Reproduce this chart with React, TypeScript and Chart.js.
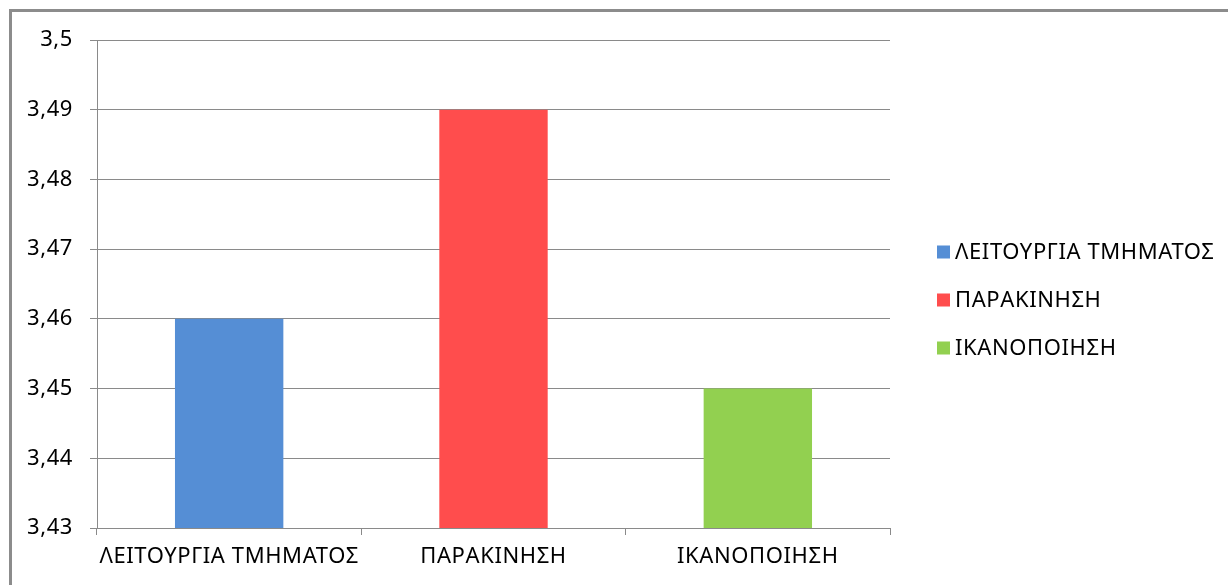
import React, { useEffect, useRef } from "react";
import { Chart, registerables } from "chart.js";

Chart.register(...registerables);

// Survey scores per dimension
const categories = ["ΛΕΙΤΟΥΡΓΙΑ ΤΜΗΜΑΤΟΣ", "ΠΑΡΑΚΙΝΗΣΗ", "ΙΚΑΝΟΠΟΙΗΣΗ"];
const scores = [3.46, 3.49, 3.45];
const barColors = ["#558ED5", "#FF4D4D", "#92D050"];
const yMin = 3.43;
const yMax = 3.5;
const yStep = 0.01;

const FONT = "'Noto Sans', 'DejaVu Sans', sans-serif";
const FONT_SIZE = 22;
const SPACING = "0.6px";
const GRID = "#8a8a8a";

// Slightly open letter spacing for all chart text
const textSpacing = {
  id: "textSpacing",
  beforeUpdate(chart: any) {
    chart.ctx.letterSpacing = SPACING;
  },
  beforeDraw(chart: any) {
    chart.ctx.letterSpacing = SPACING;
  },
};

// Legend drawn to the right of the plot, one square swatch per category
const sideLegend = {
  id: "sideLegend",
  afterDraw(chart: any) {
    const ctx = chart.ctx;
    const labels: string[] = chart.data.labels;
    const colors: string[] = chart.data.datasets[0].backgroundColor;
    const x = 937;
    const startY = 252;
    const gap = 48;
    const box = 13;
    ctx.save();
    ctx.letterSpacing = SPACING;
    ctx.font = `${FONT_SIZE}px ${FONT}`;
    ctx.textBaseline = "middle";
    ctx.textAlign = "left";
    labels.forEach((label, i) => {
      const cy = startY + i * gap;
      ctx.fillStyle = colors[i];
      ctx.fillRect(x, cy - box / 2, box, box);
      ctx.fillStyle = "#000";
      ctx.fillText(label, x + box + 5, cy + 1);
    });
    ctx.restore();
  },
};

export default function App() {
  const ref = useRef<HTMLCanvasElement | null>(null);

  useEffect(() => {
    if (!ref.current) return;
    const chart = new Chart(ref.current, {
      type: "bar",
      data: {
        labels: categories,
        datasets: [
          {
            data: scores,
            backgroundColor: barColors,
            borderWidth: 0,
            barPercentage: 0.41,
            categoryPercentage: 1,
          },
        ],
      },
      options: {
        animation: false,
        responsive: false,
        layout: { padding: { top: 40, right: 338, bottom: 0, left: 0 } },
        plugins: {
          legend: { display: false },
          tooltip: { enabled: false },
        },
        scales: {
          x: {
            offset: true,
            border: { color: GRID, width: 1 },
            grid: {
              offset: true,
              drawOnChartArea: false,
              drawTicks: true,
              tickLength: 7,
              color: GRID,
            },
            ticks: {
              color: "#000",
              padding: 9,
              font: { family: FONT, size: FONT_SIZE },
              maxRotation: 0,
              autoSkip: false,
            },
            afterFit: (s: any) => {
              s.height = 57;
            },
          },
          y: {
            min: yMin,
            max: yMax,
            border: { color: GRID, width: 1 },
            grid: { color: GRID, tickLength: 7 },
            ticks: {
              stepSize: yStep,
              color: "#000",
              padding: 17,
              font: { family: FONT, size: FONT_SIZE },
              callback: (v: any) =>
                String(Math.round(Number(v) * 100) / 100).replace(".", ","),
            },
            afterFit: (s: any) => {
              s.width = 97;
            },
          },
        },
      },
      plugins: [textSpacing, sideLegend],
    });
    return () => chart.destroy();
  }, []);

  return (
    <div style={{ position: "fixed", left: 0, top: 0, width: 1228, height: 585, background: "#fff", overflow: "hidden" }}>
      <div
        style={{
          position: "absolute",
          left: 9,
          top: 9,
          width: 1260,
          height: 620,
          border: "3px solid #8c8c8c",
        }}
      />
      <canvas ref={ref} width={1228} height={585} style={{ position: "absolute", left: 0, top: 0 }} />
    </div>
  );
}
